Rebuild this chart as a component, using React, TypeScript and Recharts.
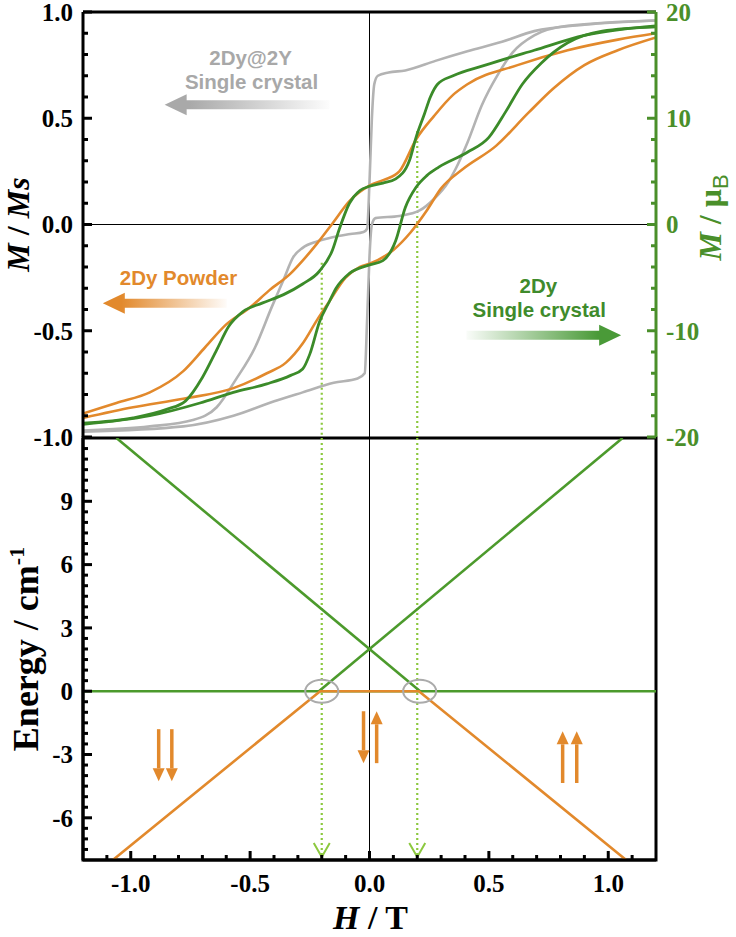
import React from 'react';
import { LineChart, Line, XAxis, YAxis, ReferenceLine, ReferenceDot, ReferenceArea } from 'recharts';

// ---------- Data (H in T, M in M/Ms) ----------
const grayDesc = [
  [-1.2, -0.97], [-0.92, -0.95], [-0.74, -0.92], [-0.64, -0.86], [-0.56, -0.73], [-0.48, -0.58],
  [-0.41, -0.39], [-0.36, -0.26], [-0.32, -0.155], [-0.28, -0.11], [-0.22, -0.08], [-0.155, -0.06],
  [-0.08, -0.045], [-0.025, -0.035], [-0.01, -0.02], [0.0, 0.2], [0.01, 0.5], [0.02, 0.66],
  [0.035, 0.7], [0.08, 0.715], [0.15, 0.725], [0.276, 0.77], [0.41, 0.815], [0.555, 0.86],
  [0.69, 0.91], [0.9, 0.94], [1.2, 0.96],
];
const grayAsc = [
  [-1.2, -0.975], [-0.78, -0.95], [-0.57, -0.9], [-0.42, -0.84], [-0.28, -0.79], [-0.15, -0.745],
  [-0.05, -0.725], [-0.02, -0.7], [-0.01, -0.45], [0.0, -0.15], [0.01, 0.0], [0.025, 0.03],
  [0.125, 0.04], [0.21, 0.066], [0.27, 0.12], [0.33, 0.2], [0.36, 0.26], [0.41, 0.385],
  [0.47, 0.56], [0.54, 0.71], [0.6, 0.81], [0.69, 0.89], [0.83, 0.935], [1.2, 0.96],
];
const greenDesc = [
  [-1.2, -0.935], [-0.99, -0.91], [-0.85, -0.87], [-0.77, -0.83], [-0.7, -0.72], [-0.64, -0.59],
  [-0.59, -0.48], [-0.53, -0.41], [-0.45, -0.37], [-0.36, -0.33], [-0.28, -0.28], [-0.21, -0.22],
  [-0.155, -0.12], [-0.126, -0.02], [-0.084, 0.1], [-0.04, 0.16], [0.0, 0.18], [0.056, 0.195],
  [0.11, 0.215], [0.167, 0.3], [0.195, 0.41], [0.23, 0.52], [0.255, 0.6], [0.285, 0.66],
  [0.35, 0.7], [0.485, 0.75], [0.69, 0.82], [0.9, 0.89], [1.2, 0.935],
];
const greenAsc = [
  [-1.2, -0.94], [-0.92, -0.9], [-0.71, -0.84], [-0.57, -0.79], [-0.43, -0.75], [-0.33, -0.71],
  [-0.28, -0.68], [-0.25, -0.61], [-0.21, -0.46], [-0.167, -0.36], [-0.14, -0.3], [-0.084, -0.23],
  [0.0, -0.19], [0.056, -0.17], [0.11, -0.075], [0.15, 0.08], [0.195, 0.175], [0.24, 0.23],
  [0.29, 0.27], [0.41, 0.34], [0.5, 0.41], [0.57, 0.53], [0.64, 0.66], [0.72, 0.76],
  [0.83, 0.855], [0.975, 0.91], [1.2, 0.93],
];
const orangeDesc = [
  [-1.2, -0.89], [-1.06, -0.84], [-0.92, -0.79], [-0.78, -0.69], [-0.69, -0.58], [-0.6, -0.47],
  [-0.5, -0.39], [-0.42, -0.31], [-0.33, -0.23], [-0.28, -0.17], [-0.22, -0.09], [-0.155, 0.005],
  [-0.084, 0.11], [0.0, 0.183], [0.06, 0.21], [0.125, 0.25], [0.195, 0.4], [0.27, 0.51],
  [0.35, 0.61], [0.41, 0.66], [0.62, 0.75], [0.83, 0.82], [1.04, 0.87], [1.2, 0.9],
];
const orangeAsc = [
  [-1.2, -0.91], [-0.99, -0.86], [-0.78, -0.82], [-0.57, -0.77], [-0.43, -0.7], [-0.35, -0.65],
  [-0.28, -0.56], [-0.22, -0.45], [-0.167, -0.36], [-0.1, -0.25], [-0.04, -0.2], [0.0, -0.185],
  [0.1, -0.12], [0.17, -0.04], [0.24, 0.066], [0.3, 0.17], [0.39, 0.26], [0.53, 0.37],
  [0.665, 0.525], [0.77, 0.64], [0.9, 0.75], [1.04, 0.82], [1.2, 0.88],
];

// Zeeman energy diagram (H in T, E in cm-1)
const energyGreenFlat = [[-1.2, 0], [1.2, 0]];
const energyGreenDown = [[-1.06, 12], [0.212, 0]];
const energyGreenUp = [[-0.212, 0], [1.06, 12]];
const energyOrange = [[-1.075, -8], [-0.207, 0], [0.207, 0], [1.075, -8]];

// Crossing fields and annotations
const crossingFields = [-0.2, 0.2];
const dottedStartM = [-0.18, 0.44];
const crossingCenters = [-0.2, 0.21];
const spinArrowsDown = [[-0.883, -1.8, -4.27], [-0.828, -1.8, -4.27], [-0.025, -0.95, -3.41]];
const spinArrowsUp = [[0.03, -3.41, -0.95], [0.809, -4.35, -1.9], [0.868, -4.35, -1.9]];

// Ticks
const topLeftTicks = [-1, -0.9, -0.8, -0.7, -0.6, -0.5, -0.4, -0.3, -0.2, -0.1, 0, 0.1, 0.2, 0.3, 0.4, 0.5, 0.6, 0.7, 0.8, 0.9, 1];
const topLeftMajor = [-1, -0.5, 0, 0.5, 1];
const topRightTicks = [-20, -18, -16, -14, -12, -10, -8, -6, -4, -2, 0, 2, 4, 6, 8, 10, 12, 14, 16, 18, 20];
const topRightMajor = [-20, -10, 0, 10, 20];
const energyTicks = [-7.5, -7, -6.5, -6, -5.5, -5, -4.5, -4, -3.5, -3, -2.5, -2, -1.5, -1, -0.5, 0, 0.5, 1, 1.5, 2, 2.5, 3, 3.5, 4, 4.5, 5, 5.5, 6, 6.5, 7, 7.5, 8, 8.5, 9, 9.5, 10, 10.5, 11, 11.5];
const energyMajor = [-6, -3, 0, 3, 6, 9];
const fieldTicks = [-1.1, -1, -0.9, -0.8, -0.7, -0.6, -0.5, -0.4, -0.3, -0.2, -0.1, 0, 0.1, 0.2, 0.3, 0.4, 0.5, 0.6, 0.7, 0.8, 0.9, 1, 1.1];
const fieldMajor = [-1, -0.5, 0, 0.5, 1];

// ---------- Styles ----------
const ORANGE = '#e2892c';
const GREEN = '#3b8b29';
const GREEN_E = '#4c9a2c';
const GREEN_AX = '#4a8f2a';
const GRAY = '#b3b3b3';
const DOT_GREEN = '#8cc83f';
const SERIF = '"Liberation Serif", "Times New Roman", serif';
const SANS = '"Liberation Sans", Arial, sans-serif';

const toHM = (arr: number[][]) => arr.map(([h, m]) => ({ h, m }));
const toHE = (arr: number[][]) => arr.map(([h, e]) => ({ h, e }));
const isIn = (list: number[], v: number) => list.some((q) => Math.abs(q - v) < 1e-6);

const makeTick = (side: 'left' | 'right' | 'bottom', majors: number[], color: string, fmt: (v: number) => string) =>
  (props: any) => {
    const { x, y, payload } = props;
    const v = payload.value;
    const major = isIn(majors, v);
    const len = major ? 9 : 5;
    if (side === 'left') {
      return (
        <g>
          <line x1={x} y1={y} x2={x + len} y2={y} stroke={color} strokeWidth={3} />
          {major && (
            <text x={x - 10} y={y} dy="0.35em" textAnchor="end" fill={color}
              style={{ fontFamily: SERIF, fontWeight: 700, fontSize: 25 }}>{fmt(v)}</text>
          )}
        </g>
      );
    }
    if (side === 'right') {
      return (
        <g>
          <line x1={x} y1={y} x2={x - len} y2={y} stroke={color} strokeWidth={3} />
          {major && (
            <text x={x + 10} y={y} dy="0.35em" textAnchor="start" fill={color}
              style={{ fontFamily: SERIF, fontWeight: 700, fontSize: 25 }}>{fmt(v)}</text>
          )}
        </g>
      );
    }
    return (
      <g>
        <line x1={x} y1={y} x2={x} y2={y - len} stroke={color} strokeWidth={3} />
        {major && (
          <text x={x} y={y + 32} textAnchor="middle" fill={color}
            style={{ fontFamily: SERIF, fontWeight: 700, fontSize: 25 }}>{fmt(v)}</text>
        )}
      </g>
    );
  };

const gradArrow = (id: string, color: string) => (p: any) => {
  const { x1, y1, x2 } = p;
  const y = y1;
  const dir = x2 > x1 ? 1 : -1;
  const hb = x2 - dir * 22;
  const pts = [[x1, y - 4.5], [hb, y - 4.5], [hb, y - 10.5], [x2, y], [hb, y + 10.5], [hb, y + 4.5], [x1, y + 4.5]]
    .map((q) => q.join(',')).join(' ');
  return (
    <g>
      <defs>
        <linearGradient id={id} gradientUnits="userSpaceOnUse" x1={x1} y1={y} x2={x2} y2={y}>
          <stop offset="0" stopColor={color} stopOpacity={0.03} />
          <stop offset="0.85" stopColor={color} stopOpacity={1} />
          <stop offset="1" stopColor={color} stopOpacity={1} />
        </linearGradient>
      </defs>
      <polygon points={pts} fill={`url(#${id})`} />
    </g>
  );
};

const spinArrow = (p: any) => {
  const { x1, y1, x2, y2 } = p;
  const dir = y2 > y1 ? 1 : -1;
  const hb = y2 - dir * 13;
  return (
    <g>
      <line x1={x1} y1={y1} x2={x1} y2={hb} stroke={ORANGE} strokeWidth={3.5} />
      <polygon points={`${x2 - 6},${hb} ${x2 + 6},${hb} ${x2},${y2}`} fill={ORANGE} />
    </g>
  );
};

const textShape = (label: string, color: string) => (p: any) => (
  <text x={p.cx} y={p.cy} textAnchor="middle" dominantBaseline="central" fill={color}
    style={{ fontFamily: SANS, fontWeight: 700, fontSize: 20.5 }}>{label}</text>
);

const ellipseShape = (p: any) => (
  <ellipse cx={p.cx} cy={p.cy} rx={16.5} ry={11.5} fill="none" stroke="#ababab" strokeWidth={2} />
);

const vHead = (p: any) => (
  <polyline points={`${p.cx - 8},${p.cy - 17} ${p.cx},${p.cy - 3} ${p.cx + 8},${p.cy - 17}`}
    fill="none" stroke={DOT_GREEN} strokeWidth={2} />
);

const leftTitleMs = (props: any) => {
  const vb = props.viewBox;
  const cx = vb.x + 29;
  const cy = vb.y + vb.height / 2;
  return (
    <text x={cx} y={cy} transform={`rotate(-90 ${cx} ${cy})`} textAnchor="middle" fill="#000"
      style={{ fontFamily: SERIF, fontWeight: 700, fontSize: 32 }}>
      <tspan fontStyle="italic">M</tspan> / <tspan fontStyle="italic">M</tspan><tspan fontStyle="italic">s</tspan>
    </text>
  );
};

const rightTitleMuB = (props: any) => {
  const vb = props.viewBox;
  const cx = vb.x + 65;
  const cy = vb.y + vb.height / 2 - 7;
  return (
    <text x={cx} y={cy} transform={`rotate(-90 ${cx} ${cy})`} textAnchor="middle" fill={GREEN_AX}
      style={{ fontFamily: SERIF, fontWeight: 700, fontSize: 32 }}>
      <tspan fontStyle="italic">M</tspan> / μ<tspan fontSize={22} dy={7} fontWeight={400} style={{ fontFamily: SANS }}>B</tspan>
    </text>
  );
};

const energyTitle = (props: any) => {
  const vb = props.viewBox;
  const cx = vb.x + 38;
  const cy = vb.y + vb.height / 2;
  return (
    <text x={cx} y={cy} transform={`rotate(-90 ${cx} ${cy})`} textAnchor="middle" fill="#000"
      style={{ fontFamily: SERIF, fontWeight: 700, fontSize: 36 }}>
      Energy / cm<tspan fontSize={22} dy={-14}>-1</tspan>
    </text>
  );
};

const fieldTitle = (props: any) => {
  const vb = props.viewBox;
  const cx = vb.x + vb.width / 2 + 1;
  const cy = vb.y + 69;
  return (
    <text x={cx} y={cy} textAnchor="middle" fill="#000"
      style={{ fontFamily: SERIF, fontWeight: 700, fontSize: 34 }}>
      <tspan fontStyle="italic">H</tspan> / T
    </text>
  );
};

const fmt1 = (v: number) => v.toFixed(1);
const fmt0 = (v: number) => String(Math.round(v));

export default function App() {
  const loops = [
    { d: grayDesc, c: GRAY, w: 2.6 },
    { d: grayAsc, c: GRAY, w: 2.6 },
    { d: orangeDesc, c: ORANGE, w: 2.6 },
    { d: orangeAsc, c: ORANGE, w: 2.6 },
    { d: greenDesc, c: GREEN, w: 2.8 },
    { d: greenAsc, c: GREEN, w: 2.8 },
  ];
  return (
    <div style={{ position: 'absolute', left: 0, top: 0, width: 736, height: 937, background: '#fff' }}>
      {/* Bottom panel: energy diagram */}
      <div style={{ position: 'absolute', left: 0, top: 0 }}>
        <LineChart width={736} height={937} margin={{ top: 438, right: 80, bottom: 0, left: 0 }}>
          <XAxis dataKey="h" type="number" domain={[-1.2, 1.2]} allowDataOverflow ticks={fieldTicks} interval={0}
            tickSize={0} tickMargin={0} height={77} axisLine={{ stroke: '#000', strokeWidth: 3 }} tickLine={false}
            tick={makeTick('bottom', fieldMajor, '#000', fmt1)} label={{ content: fieldTitle }} />
          <YAxis type="number" domain={[-8, 12]} allowDataOverflow ticks={energyTicks} interval={0} width={83}
            tickSize={0} tickMargin={0} axisLine={{ stroke: '#000', strokeWidth: 3 }} tickLine={false}
            tick={makeTick('left', energyMajor, '#000', fmt0)} label={{ content: energyTitle }} />
          <ReferenceArea x1={-1.2} x2={1.2} y1={-8} y2={12} fill="none" stroke="#000" strokeWidth={3} ifOverflow="visible" />
          <ReferenceLine x={0} stroke="#000" strokeWidth={1} />
          {crossingFields.map((f) => (
            <ReferenceLine key={'dl' + f} x={f} stroke={DOT_GREEN} strokeWidth={2.2} strokeDasharray="2 3" />
          ))}
          <Line data={toHE(energyGreenFlat)} dataKey="e" type="linear" stroke={GREEN_E} strokeWidth={2.6} dot={false} isAnimationActive={false} />
          <Line data={toHE(energyGreenDown)} dataKey="e" type="linear" stroke={GREEN_E} strokeWidth={2.6} dot={false} isAnimationActive={false} />
          <Line data={toHE(energyGreenUp)} dataKey="e" type="linear" stroke={GREEN_E} strokeWidth={2.6} dot={false} isAnimationActive={false} />
          <Line data={toHE(energyOrange)} dataKey="e" type="linear" stroke={ORANGE} strokeWidth={2.6} dot={false} isAnimationActive={false} />
          {crossingCenters.map((f) => (
            <ReferenceDot key={'el' + f} x={f} y={0} r={0} shape={ellipseShape} ifOverflow="visible" />
          ))}
          {crossingFields.map((f) => (
            <ReferenceDot key={'vh' + f} x={f} y={-8} r={0} shape={vHead} ifOverflow="visible" />
          ))}
          {spinArrowsDown.map(([h, a, b]) => (
            <ReferenceLine key={'sd' + h} segment={[{ x: h, y: a }, { x: h, y: b }]} shape={spinArrow} />
          ))}
          {spinArrowsUp.map(([h, a, b]) => (
            <ReferenceLine key={'su' + h} segment={[{ x: h, y: a }, { x: h, y: b }]} shape={spinArrow} />
          ))}
        </LineChart>
      </div>
      {/* Top panel: hysteresis */}
      <div style={{ position: 'absolute', left: 0, top: 0 }}>
        <LineChart width={736} height={470} margin={{ top: 12, right: 0, bottom: 33, left: 0 }}>
          <XAxis dataKey="h" type="number" domain={[-1.2, 1.2]} allowDataOverflow hide />
          <YAxis yAxisId="l" type="number" domain={[-1, 1]} allowDataOverflow ticks={topLeftTicks} interval={0} width={83}
            tickSize={0} tickMargin={0} axisLine={{ stroke: '#000', strokeWidth: 3 }} tickLine={false}
            tick={makeTick('left', topLeftMajor, '#000', fmt1)} label={{ content: leftTitleMs }} />
          <YAxis yAxisId="r" orientation="right" type="number" domain={[-20, 20]} allowDataOverflow ticks={topRightTicks}
            interval={0} width={80} tickSize={0} tickMargin={0} axisLine={{ stroke: GREEN_AX, strokeWidth: 3 }} tickLine={false}
            tick={makeTick('right', topRightMajor, GREEN_AX, fmt0)} label={{ content: rightTitleMuB }} />
          <ReferenceLine yAxisId="l" y={1} stroke="#000" strokeWidth={3} />
          <ReferenceLine yAxisId="l" y={0} stroke="#000" strokeWidth={1} />
          <ReferenceLine yAxisId="l" x={0} stroke="#000" strokeWidth={1} />
          {crossingFields.map((f, i) => (
            <ReferenceLine key={'td' + f} yAxisId="l" segment={[{ x: f, y: dottedStartM[i] }, { x: f, y: -1 }]}
              stroke={DOT_GREEN} strokeWidth={2.2} strokeDasharray="2 3" />
          ))}
          {loops.map((l, i) => (
            <Line key={'loop' + i} yAxisId="l" data={toHM(l.d)} dataKey="m" type="monotone" stroke={l.c}
              strokeWidth={l.w} dot={false} isAnimationActive={false} />
          ))}
          <ReferenceDot yAxisId="l" x={-0.498} y={0.784} r={0} shape={textShape('2Dy@2Y', '#a8a8a8')} />
          <ReferenceDot yAxisId="l" x={-0.494} y={0.671} r={0} shape={textShape('Single crystal', '#a8a8a8')} />
          <ReferenceLine yAxisId="l" segment={[{ x: -0.167, y: 0.563 }, { x: -0.858, y: 0.563 }]} shape={gradArrow('gGray', '#a9a9a9')} />
          <ReferenceDot yAxisId="l" x={-0.8} y={-0.249} r={0} shape={textShape('2Dy Powder', ORANGE)} />
          <ReferenceLine yAxisId="l" segment={[{ x: -0.598, y: -0.371 }, { x: -1.117, y: -0.371 }]} shape={gradArrow('gOrange', ORANGE)} />
          <ReferenceDot yAxisId="l" x={0.707} y={-0.286} r={0} shape={textShape('2Dy', '#3f8b2c')} />
          <ReferenceDot yAxisId="l" x={0.711} y={-0.399} r={0} shape={textShape('Single crystal', '#3f8b2c')} />
          <ReferenceLine yAxisId="l" segment={[{ x: 0.406, y: -0.521 }, { x: 1.054, y: -0.521 }]} shape={gradArrow('gGreen', '#4a9a38')} />
        </LineChart>
      </div>
    </div>
  );
}
